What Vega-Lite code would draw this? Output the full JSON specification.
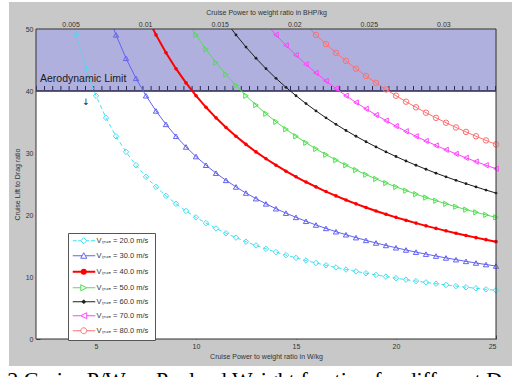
{
"$schema": "https://vega.github.io/schema/vega-lite/v6.json",
"width": 460, "height": 310,
"autosize": {"type": "none"},
"padding": {"left": 36, "top": 29, "right": 16, "bottom": 38},
"background": "white",
"config": {
 "view": {"fill": "white", "stroke": "#c8c8c8", "strokeWidth": 54},
 "font": "Liberation Sans",
 "axis": {"labelFont": "Liberation Sans", "labelFontSize": 7, "labelColor": "#333", "titleFont": "Liberation Sans", "titleFontSize": 7, "titleFontWeight": "normal", "titleColor": "#333", "domain": false, "tickSize": -4, "tickColor": "#444", "gridColor": "#a8a8a8", "gridDash": [1, 2], "gridWidth": 0.8, "zindex": 1},
 "axisBottom": {"labelPadding": 7, "titlePadding": 3},
 "axisTop": {"labelPadding": 6, "titlePadding": 5},
 "axisLeft": {"labelPadding": 7, "titlePadding": 5}
},
"title": {"text": "2 Cruise P/W vs Payload Weight fraction for different Data", "orient": "bottom", "anchor": "start", "frame": "bounds", "font": "Liberation Serif", "fontSize": 22, "fontWeight": "normal", "color": "#000", "baseline": "top", "offset": 11, "dx": -6},
"datasets": {"curves": [
{"v":20,"x":3.5,"y":56.06},{"v":20,"x":4,"y":49.05},{"v":20,"x":4.5,"y":43.6},{"v":20,"x":5,"y":39.24},{"v":20,"x":5.5,"y":35.67},{"v":20,"x":6,"y":32.7},{"v":20,"x":6.5,"y":30.18},{"v":20,"x":7,"y":28.03},{"v":20,"x":7.5,"y":26.16},{"v":20,"x":8,"y":24.53},{"v":20,"x":8.5,"y":23.08},{"v":20,"x":9,"y":21.8},{"v":20,"x":9.5,"y":20.65},{"v":20,"x":10,"y":19.62},{"v":20,"x":10.5,"y":18.69},{"v":20,"x":11,"y":17.84},{"v":20,"x":11.5,"y":17.06},{"v":20,"x":12,"y":16.35},{"v":20,"x":12.5,"y":15.7},{"v":20,"x":13,"y":15.09},{"v":20,"x":13.5,"y":14.53},{"v":20,"x":14,"y":14.01},{"v":20,"x":14.5,"y":13.53},{"v":20,"x":15,"y":13.08},{"v":20,"x":15.5,"y":12.66},{"v":20,"x":16,"y":12.26},{"v":20,"x":16.5,"y":11.89},{"v":20,"x":17,"y":11.54},{"v":20,"x":17.5,"y":11.21},{"v":20,"x":18,"y":10.9},{"v":20,"x":18.5,"y":10.61},{"v":20,"x":19,"y":10.33},{"v":20,"x":19.5,"y":10.06},{"v":20,"x":20,"y":9.81},{"v":20,"x":20.5,"y":9.57},{"v":20,"x":21,"y":9.34},{"v":20,"x":21.5,"y":9.13},{"v":20,"x":22,"y":8.92},{"v":20,"x":22.5,"y":8.72},{"v":20,"x":23,"y":8.53},{"v":20,"x":23.5,"y":8.35},{"v":20,"x":24,"y":8.18},{"v":20,"x":24.5,"y":8.01},{"v":20,"x":25,"y":7.85},
{"v":30,"x":5.5,"y":53.51},{"v":30,"x":6,"y":49.05},{"v":30,"x":6.5,"y":45.28},{"v":30,"x":7,"y":42.04},{"v":30,"x":7.5,"y":39.24},{"v":30,"x":8,"y":36.79},{"v":30,"x":8.5,"y":34.62},{"v":30,"x":9,"y":32.7},{"v":30,"x":9.5,"y":30.98},{"v":30,"x":10,"y":29.43},{"v":30,"x":10.5,"y":28.03},{"v":30,"x":11,"y":26.75},{"v":30,"x":11.5,"y":25.59},{"v":30,"x":12,"y":24.53},{"v":30,"x":12.5,"y":23.54},{"v":30,"x":13,"y":22.64},{"v":30,"x":13.5,"y":21.8},{"v":30,"x":14,"y":21.02},{"v":30,"x":14.5,"y":20.3},{"v":30,"x":15,"y":19.62},{"v":30,"x":15.5,"y":18.99},{"v":30,"x":16,"y":18.39},{"v":30,"x":16.5,"y":17.84},{"v":30,"x":17,"y":17.31},{"v":30,"x":17.5,"y":16.82},{"v":30,"x":18,"y":16.35},{"v":30,"x":18.5,"y":15.91},{"v":30,"x":19,"y":15.49},{"v":30,"x":19.5,"y":15.09},{"v":30,"x":20,"y":14.72},{"v":30,"x":20.5,"y":14.36},{"v":30,"x":21,"y":14.01},{"v":30,"x":21.5,"y":13.69},{"v":30,"x":22,"y":13.38},{"v":30,"x":22.5,"y":13.08},{"v":30,"x":23,"y":12.8},{"v":30,"x":23.5,"y":12.52},{"v":30,"x":24,"y":12.26},{"v":30,"x":24.5,"y":12.01},{"v":30,"x":25,"y":11.77},
{"v":40,"x":7.5,"y":52.32},{"v":40,"x":8,"y":49.05},{"v":40,"x":8.5,"y":46.16},{"v":40,"x":9,"y":43.6},{"v":40,"x":9.5,"y":41.31},{"v":40,"x":10,"y":39.24},{"v":40,"x":10.5,"y":37.37},{"v":40,"x":11,"y":35.67},{"v":40,"x":11.5,"y":34.12},{"v":40,"x":12,"y":32.7},{"v":40,"x":12.5,"y":31.39},{"v":40,"x":13,"y":30.18},{"v":40,"x":13.5,"y":29.07},{"v":40,"x":14,"y":28.03},{"v":40,"x":14.5,"y":27.06},{"v":40,"x":15,"y":26.16},{"v":40,"x":15.5,"y":25.32},{"v":40,"x":16,"y":24.53},{"v":40,"x":16.5,"y":23.78},{"v":40,"x":17,"y":23.08},{"v":40,"x":17.5,"y":22.42},{"v":40,"x":18,"y":21.8},{"v":40,"x":18.5,"y":21.21},{"v":40,"x":19,"y":20.65},{"v":40,"x":19.5,"y":20.12},{"v":40,"x":20,"y":19.62},{"v":40,"x":20.5,"y":19.14},{"v":40,"x":21,"y":18.69},{"v":40,"x":21.5,"y":18.25},{"v":40,"x":22,"y":17.84},{"v":40,"x":22.5,"y":17.44},{"v":40,"x":23,"y":17.06},{"v":40,"x":23.5,"y":16.7},{"v":40,"x":24,"y":16.35},{"v":40,"x":24.5,"y":16.02},{"v":40,"x":25,"y":15.7},
{"v":50,"x":9.5,"y":51.63},{"v":50,"x":10,"y":49.05},{"v":50,"x":10.5,"y":46.71},{"v":50,"x":11,"y":44.59},{"v":50,"x":11.5,"y":42.65},{"v":50,"x":12,"y":40.88},{"v":50,"x":12.5,"y":39.24},{"v":50,"x":13,"y":37.73},{"v":50,"x":13.5,"y":36.33},{"v":50,"x":14,"y":35.04},{"v":50,"x":14.5,"y":33.83},{"v":50,"x":15,"y":32.7},{"v":50,"x":15.5,"y":31.65},{"v":50,"x":16,"y":30.66},{"v":50,"x":16.5,"y":29.73},{"v":50,"x":17,"y":28.85},{"v":50,"x":17.5,"y":28.03},{"v":50,"x":18,"y":27.25},{"v":50,"x":18.5,"y":26.51},{"v":50,"x":19,"y":25.82},{"v":50,"x":19.5,"y":25.15},{"v":50,"x":20,"y":24.53},{"v":50,"x":20.5,"y":23.93},{"v":50,"x":21,"y":23.36},{"v":50,"x":21.5,"y":22.81},{"v":50,"x":22,"y":22.3},{"v":50,"x":22.5,"y":21.8},{"v":50,"x":23,"y":21.33},{"v":50,"x":23.5,"y":20.87},{"v":50,"x":24,"y":20.44},{"v":50,"x":24.5,"y":20.02},{"v":50,"x":25,"y":19.62},
{"v":60,"x":11.5,"y":51.18},{"v":60,"x":12,"y":49.05},{"v":60,"x":12.5,"y":47.09},{"v":60,"x":13,"y":45.28},{"v":60,"x":13.5,"y":43.6},{"v":60,"x":14,"y":42.04},{"v":60,"x":14.5,"y":40.59},{"v":60,"x":15,"y":39.24},{"v":60,"x":15.5,"y":37.97},{"v":60,"x":16,"y":36.79},{"v":60,"x":16.5,"y":35.67},{"v":60,"x":17,"y":34.62},{"v":60,"x":17.5,"y":33.63},{"v":60,"x":18,"y":32.7},{"v":60,"x":18.5,"y":31.82},{"v":60,"x":19,"y":30.98},{"v":60,"x":19.5,"y":30.18},{"v":60,"x":20,"y":29.43},{"v":60,"x":20.5,"y":28.71},{"v":60,"x":21,"y":28.03},{"v":60,"x":21.5,"y":27.38},{"v":60,"x":22,"y":26.75},{"v":60,"x":22.5,"y":26.16},{"v":60,"x":23,"y":25.59},{"v":60,"x":23.5,"y":25.05},{"v":60,"x":24,"y":24.53},{"v":60,"x":24.5,"y":24.02},{"v":60,"x":25,"y":23.54},
{"v":70,"x":13.5,"y":50.87},{"v":70,"x":14,"y":49.05},{"v":70,"x":14.5,"y":47.36},{"v":70,"x":15,"y":45.78},{"v":70,"x":15.5,"y":44.3},{"v":70,"x":16,"y":42.92},{"v":70,"x":16.5,"y":41.62},{"v":70,"x":17,"y":40.39},{"v":70,"x":17.5,"y":39.24},{"v":70,"x":18,"y":38.15},{"v":70,"x":18.5,"y":37.12},{"v":70,"x":19,"y":36.14},{"v":70,"x":19.5,"y":35.22},{"v":70,"x":20,"y":34.34},{"v":70,"x":20.5,"y":33.5},{"v":70,"x":21,"y":32.7},{"v":70,"x":21.5,"y":31.94},{"v":70,"x":22,"y":31.21},{"v":70,"x":22.5,"y":30.52},{"v":70,"x":23,"y":29.86},{"v":70,"x":23.5,"y":29.22},{"v":70,"x":24,"y":28.61},{"v":70,"x":24.5,"y":28.03},{"v":70,"x":25,"y":27.47},
{"v":80,"x":15.5,"y":50.63},{"v":80,"x":16,"y":49.05},{"v":80,"x":16.5,"y":47.56},{"v":80,"x":17,"y":46.16},{"v":80,"x":17.5,"y":44.85},{"v":80,"x":18,"y":43.6},{"v":80,"x":18.5,"y":42.42},{"v":80,"x":19,"y":41.31},{"v":80,"x":19.5,"y":40.25},{"v":80,"x":20,"y":39.24},{"v":80,"x":20.5,"y":38.28},{"v":80,"x":21,"y":37.37},{"v":80,"x":21.5,"y":36.5},{"v":80,"x":22,"y":35.67},{"v":80,"x":22.5,"y":34.88},{"v":80,"x":23,"y":34.12},{"v":80,"x":23.5,"y":33.4},{"v":80,"x":24,"y":32.7},{"v":80,"x":24.5,"y":32.03},{"v":80,"x":25,"y":31.39}
]},
"layer": [
 {"layer": [
  {"data": {"values": [{}]}, "mark": {"type": "rect", "fill": "white", "clip": true},
   "encoding": {"x": {"datum": 2, "type": "quantitative", "scale": {"domain": [2, 25], "nice": false, "zero": false}}, "x2": {"datum": 25}, "y": {"datum": 0, "type": "quantitative", "scale": {"domain": [0, 50], "nice": false, "zero": false}}, "y2": {"datum": 50}}},
  {"data": {"values": [{}]}, "mark": {"type": "rect", "fill": "#b0b0de", "clip": true},
   "encoding": {"x": {"datum": 2}, "x2": {"datum": 25}, "y": {"datum": 40}, "y2": {"datum": 50}}},
  {"data": {"values": [{}]}, "mark": {"type": "rule", "color": "#24244e", "strokeWidth": 1.3, "clip": true},
   "encoding": {"y": {"datum": 40}}},
  {"data": {"values": [{}]}, "mark": {"type": "rule", "color": "#2a2a52", "strokeWidth": 4, "strokeDash": [1, 7.2], "clip": true},
   "encoding": {"y": {"datum": 40.5}}},
  {"data": {"values": [{}]}, "mark": {"type": "text", "text": "Aerodynamic Limit", "font": "Liberation Sans", "fontSize": 10.5, "color": "#1a1a1a", "align": "left", "baseline": "middle"},
   "encoding": {"x": {"datum": 2.2}, "y": {"datum": 41.9}}},
  {"data": {"values": [{}]}, "mark": {"type": "text", "text": "↓", "font": "DejaVu Sans", "fontSize": 9, "color": "#222", "align": "center", "baseline": "middle"},
   "encoding": {"x": {"datum": 4.5}, "y": {"datum": 38.3}}},
  {"data": {"name": "curves"}, "transform": [{"filter": "datum.v != 40 && datum.v != 20"}], "mark": {"type": "line", "clip": true, "strokeWidth": 1},
   "encoding": {
    "x": {"field": "x", "type": "quantitative", "axis": {"values": [5, 10, 15, 20, 25], "title": "Cruise Power to weight ratio in W/kg", "grid": true}},
    "y": {"field": "y", "type": "quantitative", "axis": {"values": [0, 5, 10, 15, 20, 25, 30, 35, 40, 45, 50], "title": "Cruise Lift to Drag ratio", "grid": true}},
    "color": {"field": "v", "type": "nominal", "scale": {"domain": [20, 30, 40, 50, 60, 70, 80], "range": ["#3fe0f0", "#6262f2", "#ff0000", "#4ee04e", "#1e1e1e", "#ff44ff", "#ff7070"]},
     "legend": {"orient": "none", "legendX": 32, "legendY": 204, "title": null, "fillColor": "white", "strokeColor": "#555", "padding": 4, "rowPadding": 4, "symbolSize": 100, "labelOffset": 17, "labelFont": "Liberation Sans", "labelFontSize": 7.5, "labelColor": "#333", "zindex": 2,
      "labelExpr": "'Vₜᵣᵤₑ =  ' + format(datum.value, '.1f') + ' m/s'",
      "encode": {"symbols": {"update": {
        "shape": {"signal": "['M-0.6,0H0.2M0.5,0H1.0M1.0,0L1.6,-0.6L2.2,0L1.6,0.6ZM2.2,0H2.7M3.0,0H3.9', 'M-0.6,0H1.27M1.93,0H3.9M1.6,-0.6L2.2,0.5L1.0,0.5Z', 'M-0.6,0H3.9M1.2,0A0.4,0.4,0,1,0,2.0,0A0.4,0.4,0,1,0,1.2,0Z', 'M-0.6,0H1.0M2.2,0H3.9M1.0,-0.6L2.2,0L1.0,0.6Z', 'M-0.6,0H3.9M1.3,0A0.3,0.3,0,1,0,1.9,0A0.3,0.3,0,1,0,1.3,0Z', 'M-0.6,0H1.0M2.2,0H3.9M2.2,-0.6L1.0,0L2.2,0.6Z', 'M-0.6,0H1.0M2.2,0H3.9M1.0,0A0.6,0.6,0,1,0,2.2,0A0.6,0.6,0,1,0,1.0,0Z'][(datum.value - 20) / 10]"},
        "stroke": {"signal": "['#3fe0f0', '#6262f2', '#ff0000', '#4ee04e', '#1e1e1e', '#ff44ff', '#ff7070'][(datum.value - 20) / 10]"},
        "fill": {"signal": "['white', 'white', '#ff0000', 'white', '#1e1e1e', 'white', 'white'][(datum.value - 20) / 10]"},
        "strokeWidth": {"signal": "datum.value == 40 ? 2 : 1"},
        "opacity": {"value": 1}
      }}}}}
   }},
  {"data": {"name": "curves"}, "transform": [{"filter": "datum.v == 20"}], "mark": {"type": "line", "clip": true, "strokeWidth": 1, "strokeDash": [4, 3], "color": "#3fe0f0"},
   "encoding": {"x": {"field": "x", "type": "quantitative"}, "y": {"field": "y", "type": "quantitative"}}},
  {"data": {"name": "curves"}, "transform": [{"filter": "datum.v == 40"}], "mark": {"type": "line", "clip": true, "strokeWidth": 2, "color": "#ff0000"},
   "encoding": {"x": {"field": "x", "type": "quantitative"}, "y": {"field": "y", "type": "quantitative"}}},
  {"data": {"name": "curves"}, "transform": [{"filter": "datum.y <= 50 && datum.v == 20"}], "mark": {"type": "point", "shape": "diamond", "filled": false, "opacity": 1, "strokeWidth": 1, "size": 30, "color": "#3fe0f0"},
   "encoding": {"x": {"field": "x", "type": "quantitative"}, "y": {"field": "y", "type": "quantitative"}}},
  {"data": {"name": "curves"}, "transform": [{"filter": "datum.y <= 50 && datum.v == 30"}], "mark": {"type": "point", "shape": "triangle-up", "filled": false, "opacity": 1, "strokeWidth": 1, "size": 28, "color": "#6262f2"},
   "encoding": {"x": {"field": "x", "type": "quantitative"}, "y": {"field": "y", "type": "quantitative"}}},
  {"data": {"name": "curves"}, "transform": [{"filter": "datum.y <= 50 && datum.v == 40"}], "mark": {"type": "point", "shape": "circle", "filled": true, "opacity": 1, "size": 13, "color": "#ff0000"},
   "encoding": {"x": {"field": "x", "type": "quantitative"}, "y": {"field": "y", "type": "quantitative"}}},
  {"data": {"name": "curves"}, "transform": [{"filter": "datum.y <= 50 && datum.v == 50"}], "mark": {"type": "point", "shape": "triangle-right", "filled": false, "opacity": 1, "strokeWidth": 1, "size": 28, "color": "#4ee04e"},
   "encoding": {"x": {"field": "x", "type": "quantitative"}, "y": {"field": "y", "type": "quantitative"}}},
  {"data": {"name": "curves"}, "transform": [{"filter": "datum.y <= 50 && datum.v == 60"}], "mark": {"type": "point", "shape": "circle", "filled": true, "opacity": 1, "size": 8, "color": "#1e1e1e"},
   "encoding": {"x": {"field": "x", "type": "quantitative"}, "y": {"field": "y", "type": "quantitative"}}},
  {"data": {"name": "curves"}, "transform": [{"filter": "datum.y <= 50 && datum.v == 70"}], "mark": {"type": "point", "shape": "triangle-left", "filled": false, "opacity": 1, "strokeWidth": 1, "size": 28, "color": "#ff44ff"},
   "encoding": {"x": {"field": "x", "type": "quantitative"}, "y": {"field": "y", "type": "quantitative"}}},
  {"data": {"name": "curves"}, "transform": [{"filter": "datum.y <= 50 && datum.v == 80"}], "mark": {"type": "point", "shape": "circle", "filled": false, "opacity": 1, "strokeWidth": 1, "size": 30, "color": "#ff7070"},
   "encoding": {"x": {"field": "x", "type": "quantitative"}, "y": {"field": "y", "type": "quantitative"}}},
  {"data": {"values": [{}]}, "mark": {"type": "rect", "fill": null, "filled": false, "stroke": "#333", "strokeWidth": 1, "clip": false},
   "encoding": {"x": {"datum": 2}, "x2": {"datum": 25}, "y": {"datum": 0}, "y2": {"datum": 50}}}
 ]},
 {"data": {"values": [{"bhp": 0.002682}, {"bhp": 0.0335256}]}, "mark": {"type": "point", "opacity": 0},
  "encoding": {"x": {"field": "bhp", "type": "quantitative", "scale": {"domain": [0.002682, 0.0335256], "nice": false, "zero": false},
   "axis": {"orient": "top", "values": [0.005, 0.01, 0.015, 0.02, 0.025, 0.03], "format": "~g", "title": "Cruise Power to weight ratio in BHP/kg", "grid": false}}}}
],
"resolve": {"scale": {"x": "independent"}}
}
